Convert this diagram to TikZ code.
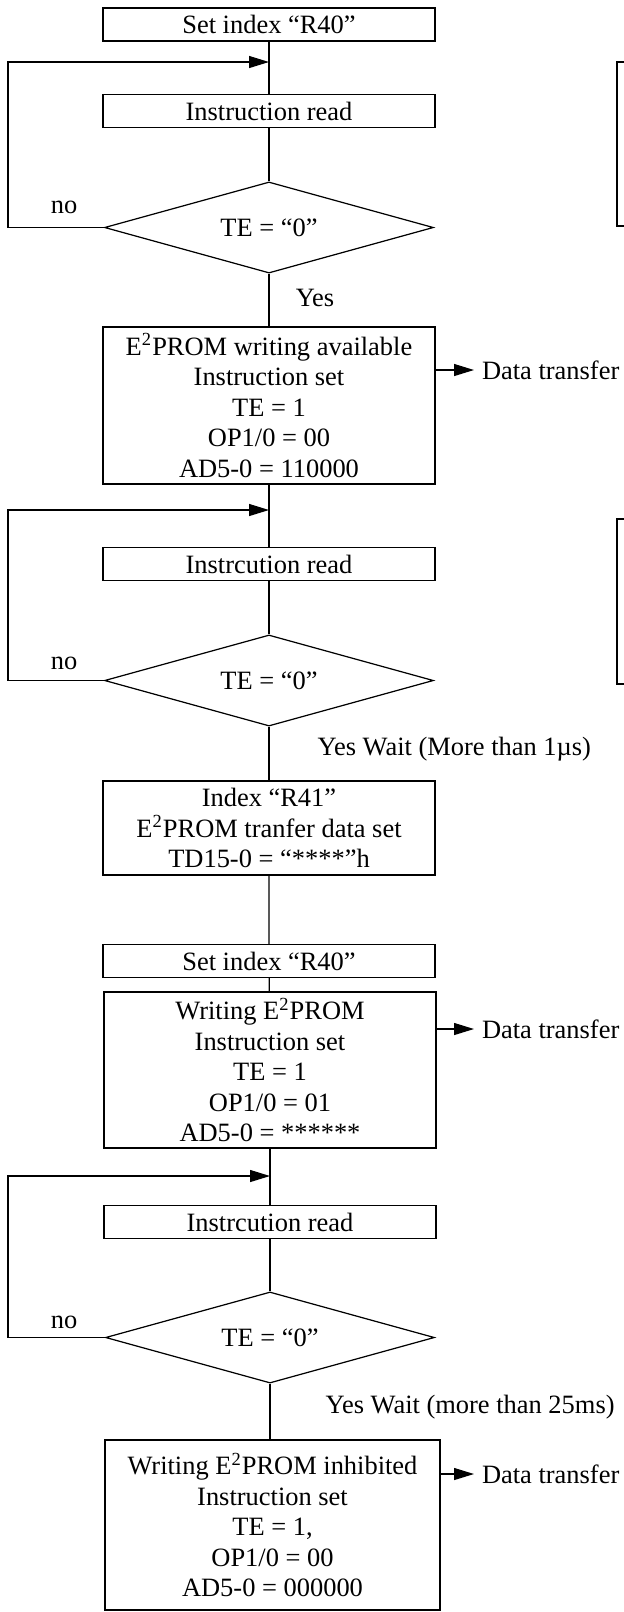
\documentclass[tikz,border=0pt]{standalone}
\usepackage{fontspec}
\setmainfont{Liberation Serif}
\usetikzlibrary{positioning, shapes.geometric, arrows.meta}

\begin{document}
\begin{tikzpicture}[x=0.45pt, y=-0.45pt, line width=0.55pt,
    font=\fontsize{11.9}{13.7}\selectfont,
    box/.style={draw, rectangle, align=center, inner sep=0pt, minimum width=149.4pt},
    dia/.style={draw, diamond, shape aspect=3.6, inner sep=1pt, minimum width=148pt, minimum height=41pt},
    arr/.style={-{Triangle[length=9pt, width=5.4pt]}}]
    \useasboundingbox (0,0) rectangle (624,1612);

    % First pass: enable writing
    \node[box, minimum height=14.85pt] (set1) at (269, 24.5) {Set index “R40”};
    \node[box, minimum height=14.85pt] (read1) at (269, 111) {Instruction read};
    \node[dia] (te1) at (269, 227.5) {TE = “0”};
    \node[box, minimum height=70.65pt] (avail) at (269, 405.5) {E\textsuperscript{2}PROM writing available\\Instruction set\\TE = 1\\OP1/0 = 00\\AD5-0 = 110000};

    % Second pass: data and write
    \node[box, minimum height=14.85pt] (read2) at (269, 564) {Instrcution read};
    \node[dia] (te2) at (269, 680.5) {TE = “0”};
    \node[box, minimum height=42.3pt] (index) at (269, 828) {Index “R41”\\E\textsuperscript{2}PROM tranfer data set\\TD15-0 = “****”h};
    \node[box, minimum height=14.85pt] (set2) at (269, 961) {Set index “R40”};
    \node[box, minimum height=70.2pt] (write) at (270, 1070) {Writing E\textsuperscript{2}PROM\\Instruction set\\TE = 1\\OP1/0 = 01\\AD5-0 = ******};

    % Third pass: inhibit writing
    \node[box, minimum height=14.85pt] (read3) at (270, 1222) {Instrcution read};
    \node[dia] (te3) at (270, 1337.5) {TE = “0”};
    \node[box, minimum width=150.75pt, minimum height=76.5pt] (inhib) at (272.5, 1525) {Writing E\textsuperscript{2}PROM inhibited\\Instruction set\\TE = 1,\\OP1/0 = 00\\AD5-0 = 000000};

    % Loop entry points
    \coordinate (j1) at (269, 62);
    \coordinate (j2) at (269, 510);
    \coordinate (j3) at (270, 1176);
    \coordinate (lx) at (8, 0);

    % Main line
    \draw (set1) -- (read1) -- (te1);
    \draw (te1.south) -- (avail.north);
    \draw (avail) -- (read2) -- (te2);
    \draw (te2.south) -- (index.north);
    \draw (index) -- (set2) -- (write);
    \draw (write.south) -- (read3.north);
    \draw (read3.south) -- (te3.north);
    \draw (te3.south) -- (te3.south |- inhib.north);

    % Loops back on "no"
    \foreach \d/\j in {te1/j1, te2/j2, te3/j3}
        \draw[arr] (\d.west) -- (\d.west -| lx) -- (\j -| lx) -- (\j);
    \node (no1) at (64, 207) {no};
    \node (no2) at (64, 663) {no};
    \node (no3) at (64, 1322) {no};

    % Yes labels
    \node (yes1) at (315, 298) {Yes};
    \node[anchor=west, inner sep=0pt] (yes2) at (317, 749) {Yes Wait (More than 1µs)};
    \node[anchor=west, inner sep=0pt] (yes3) at (325, 1407) {Yes Wait (more than 25ms)};

    % Data transfer outputs
    \node[anchor=west] (dt1) at (474, 370) {Data transfer};
    \node[anchor=west] (dt2) at (474, 1029) {Data transfer};
    \node[anchor=west] (dt3) at (474, 1474) {Data transfer};
    \draw[arr] (avail.east |- dt1) -- (dt1.west);
    \draw[arr] (write.east |- dt2) -- (dt2.west);
    \draw[arr] (inhib.east |- dt3) -- (dt3.west);

    % Boxes cut off at the right edge
    \draw (617, 62) rectangle (640, 226);
    \draw (617, 519) rectangle (640, 684);
\end{tikzpicture}
\end{document}
